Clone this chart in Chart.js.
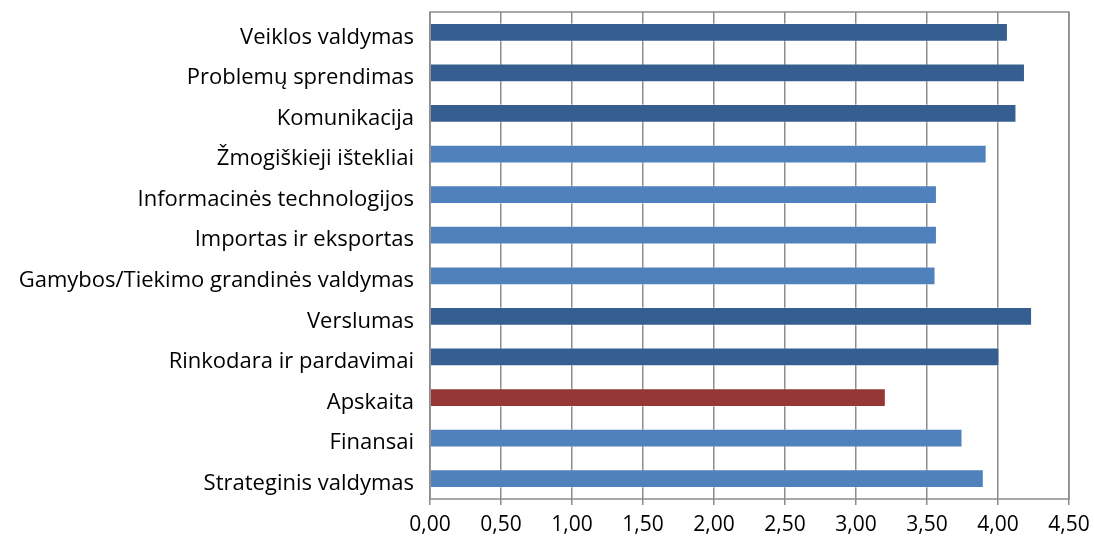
<!DOCTYPE html>
<html lang="lt">
<head>
    <meta charset="UTF-8">
    <title>Kompetencijos</title>
    <script src="https://cdn.jsdelivr.net/npm/chart.js@4/dist/chart.umd.min.js"></script>
    <style>
        html, body { margin: 0; padding: 0; background: #fff; }
        .graph { width: 1094px; height: 543px; }
    </style>
</head>
<body>
    <div class="graph">
        <canvas id="canvas_grafico"></canvas>
    </div>

<script>
    // duomenys
    var kategorijos = [
        "Veiklos valdymas",
        "Problemų sprendimas",
        "Komunikacija",
        "Žmogiškieji ištekliai",
        "Informacinės technologijos",
        "Importas ir eksportas",
        "Gamybos/Tiekimo grandinės valdymas",
        "Verslumas",
        "Rinkodara ir pardavimai",
        "Apskaita",
        "Finansai",
        "Strateginis valdymas"
    ];
    var vertes = [4.07, 4.19, 4.13, 3.92, 3.57, 3.57, 3.56, 4.24, 4.01, 3.21, 3.75, 3.90];
    var asiesZymes = [0, 0.5, 1, 1.5, 2, 2.5, 3, 3.5, 4, 4.5];

    // spalvos
    var tamsi = "#365F91";
    var sviesi = "#4F81BD";
    var raudona = "#953735";
    var spalvos = [tamsi, tamsi, tamsi, sviesi, sviesi, sviesi, sviesi, tamsi, tamsi, raudona, sviesi, sviesi];

    var sriftas = "'Open Sans', sans-serif";

    // rėmelis aplink braižymo sritį
    const remelis = {
        id: 'remelis',
        afterDraw(chart) {
            const a = chart.chartArea;
            const ctx = chart.ctx;
            ctx.save();
            ctx.strokeStyle = "#8C8C8C";
            ctx.lineWidth = 1.5;
            ctx.strokeRect(a.left, a.top, a.right - a.left, a.bottom - a.top);
            ctx.restore();
        }
    };

    new Chart(document.getElementById("canvas_grafico"), {
        type: "bar",
        data: {
            labels: kategorijos,
            datasets: [{
                data: vertes,
                backgroundColor: spalvos,
                borderColor: "rgba(255,255,255,0.35)",
                borderWidth: 1,
                categoryPercentage: 1,
                barPercentage: 0.46
            }]
        },
        options: {
            indexAxis: 'y',
            responsive: true,
            maintainAspectRatio: false,
            animation: false,
            layout: { padding: { top: 12, right: 25, left: 0, bottom: 0 } },
            plugins: {
                legend: { display: false },
                tooltip: { enabled: false }
            },
            scales: {
                x: {
                    min: 0,
                    max: 4.5,
                    afterBuildTicks: function (axis) {
                        axis.ticks = asiesZymes.map(function (v) { return { value: v }; });
                    },
                    afterFit: function (axis) {
                        axis.height = 44;
                        axis.paddingLeft = 0;
                        axis.paddingRight = 0;
                    },
                    grid: {
                        color: "#8C8C8C",
                        lineWidth: 1.5,
                        drawTicks: true,
                        tickLength: 6
                    },
                    border: { display: false },
                    ticks: {
                        color: "#000",
                        padding: 7,
                        maxRotation: 0,
                        font: { family: sriftas, size: 21 },
                        callback: function (v) { return Number(v).toFixed(2).replace('.', ','); }
                    }
                },
                y: {
                    afterFit: function (axis) {
                        axis.width = 430;
                        axis.paddingTop = 0;
                        axis.paddingBottom = 0;
                    },
                    grid: { display: false },
                    border: { display: false },
                    ticks: {
                        color: "#000",
                        padding: 8,
                        labelOffset: 5,
                        font: { family: sriftas, size: 22 }
                    }
                }
            }
        },
        plugins: [remelis]
    });
</script>
</body>
</html>
